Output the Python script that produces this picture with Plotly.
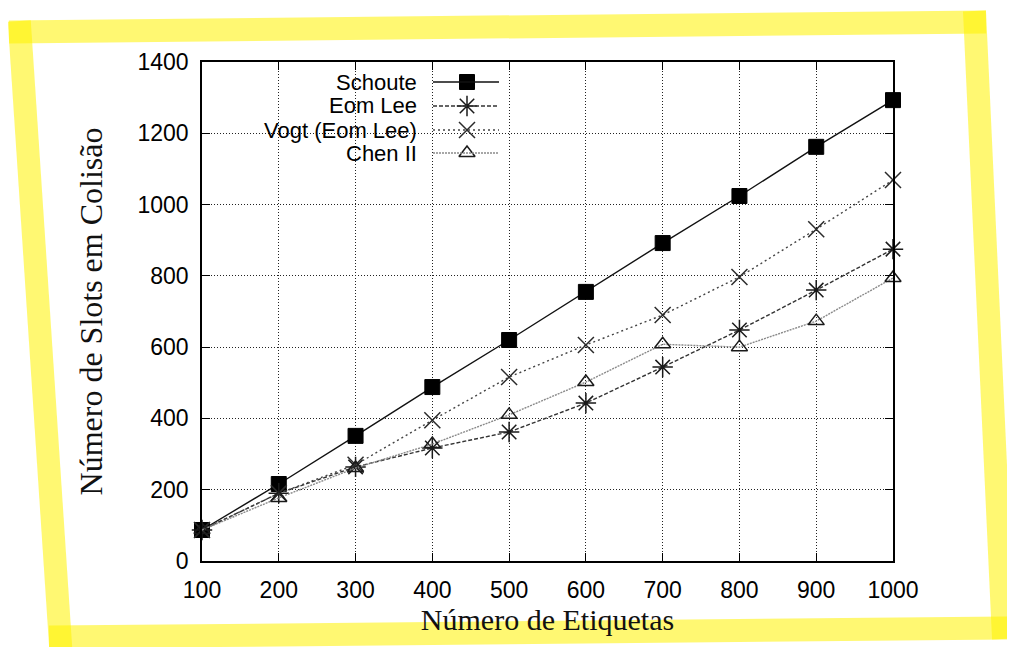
import plotly.graph_objects as go

# ---- data ----
etiquetas = [100, 200, 300, 400, 500, 600, 700, 800, 900, 1000]
schoute = [87, 216, 351, 488, 620, 755, 892, 1024, 1162, 1293]
eom_lee = [87, 190, 264, 317, 362, 443, 544, 648, 760, 875]
vogt = [87, 190, 270, 395, 516, 606, 690, 797, 931, 1069]
chen2 = [87, 177, 261, 328, 410, 502, 608, 600, 673, 794]

series_names = ["Schoute", "Eom Lee", "Vogt (Eom Lee)", "Chen II"]
x_ticks = [100, 200, 300, 400, 500, 600, 700, 800, 900, 1000]
y_ticks = [0, 200, 400, 600, 800, 1000, 1200, 1400]

# ---- styles ----
styles = [
    dict(line=dict(color="#111111", width=1.4, dash="solid"),
         marker=dict(symbol="square", size=15, color="black", line=dict(width=1, color="black"))),
    dict(line=dict(color="#333333", width=1.4, dash="4px,2px"),
         marker=dict(symbol="asterisk-open", size=17, color="#1a1a1a", line=dict(width=1.5, color="#1a1a1a"))),
    dict(line=dict(color="#444444", width=1.4, dash="2px,3px"),
         marker=dict(symbol="x-thin-open", size=16, color="#2a2a2a", line=dict(width=1.5, color="#2a2a2a"))),
    dict(line=dict(color="#8a8a8a", width=1.4, dash="2px,1px"),
         marker=dict(symbol="triangle-up-open", size=14, color="#1a1a1a", line=dict(width=1.5, color="#1a1a1a"))),
]

OFF = 8  # page body margin
W, H = 1015 - OFF, 647 - OFF
L, T = 202 - OFF, 62 - OFF
R = W - (893 - OFF)
B = H - (561 - OFF)
PW, PH = W - L - R, H - T - B


def px(xpage):
    return (xpage - OFF - L) / PW


def py(ypage):
    return (H - B - (ypage - OFF)) / PH


fig = go.Figure()
all_series = [schoute, eom_lee, vogt, chen2]
for name, ys, st in zip(series_names, all_series, styles):
    fig.add_trace(go.Scatter(x=etiquetas, y=ys, name=name, mode="lines+markers",
                             line=st["line"], marker=st["marker"],
                             cliponaxis=False, showlegend=False))

# ---- manual gnuplot-style key ----
key_rows = [82, 106, 130, 153]
shapes = []
annotations = []
shapes.append(dict(type="rect", xref="paper", yref="paper", x0=px(203), x1=px(512),
                   y0=py(168), y1=py(63), fillcolor="white", line=dict(width=0), layer="between"))
for name, row, st in zip(series_names, key_rows, styles):
    annotations.append(dict(text=name, x=px(419), y=py(row), xref="paper", yref="paper",
                            xanchor="right", yanchor="middle", showarrow=False,
                            font=dict(family="Liberation Sans", size=22, color="black")))
    shapes.append(dict(type="line", xref="paper", yref="paper", x0=px(433), x1=px(499),
                       y0=py(row), y1=py(row), line=st["line"], layer="above"))
    fig.add_trace(go.Scatter(
        x=[px(467)], y=[py(row)], mode="markers", marker=st["marker"],
        xaxis="x2", yaxis="y2", showlegend=False, hoverinfo="skip", cliponaxis=False))

# ---- yellow highlighter frame ----
corners = [(20, 32), (975, 22), (1003, 628), (60, 637)]
ext = 11
for i in range(4):
    (xa, ya), (xb, yb) = corners[i], corners[(i + 1) % 4]
    dx, dy = xb - xa, yb - ya
    ln = (dx * dx + dy * dy) ** 0.5
    ux, uy = dx / ln, dy / ln
    shapes.append(dict(type="line", xref="paper", yref="paper",
                       x0=px(xa - ux * ext), y0=py(ya - uy * ext),
                       x1=px(xb + ux * ext), y1=py(yb + uy * ext),
                       line=dict(color="rgb(255,244,0)", width=23), opacity=0.55, layer="above"))

axis_common = dict(showline=True, linecolor="black", linewidth=1.5, mirror="allticks",
                   ticks="inside", ticklen=8, tickwidth=1, tickcolor="black",
                   showgrid=True, gridcolor="#222222", gridwidth=1, griddash="1px,2px",
                   zeroline=False,
                   tickfont=dict(family="Liberation Sans", size=23, color="black"))

fig.update_layout(
    width=W, height=H,
    margin=dict(l=L, r=R, t=T, b=B),
    paper_bgcolor="white", plot_bgcolor="white",
    xaxis=dict(range=[100, 1000], tickvals=x_ticks, ticktext=[str(v) for v in x_ticks],
               ticklabelstandoff=8,
               title=dict(text="Número de Etiquetas", standoff=4,
                          font=dict(family="Liberation Serif", size=30, color="#111111")),
               **axis_common),
    yaxis=dict(range=[0, 1400], tickvals=y_ticks, ticktext=[str(v) for v in y_ticks],
               ticklabelstandoff=7,
               title=dict(text="Número de Slots em Colisão", standoff=25,
                          font=dict(family="Liberation Serif", size=32, color="#111111")),
               **axis_common),
    xaxis2=dict(overlaying="x", range=[0, 1], visible=False, anchor="y2"),
    yaxis2=dict(overlaying="y", range=[0, 1], visible=False, anchor="x2"),
    shapes=shapes,
    annotations=annotations,
    showlegend=False,
)

fig.write_html("out.html")
